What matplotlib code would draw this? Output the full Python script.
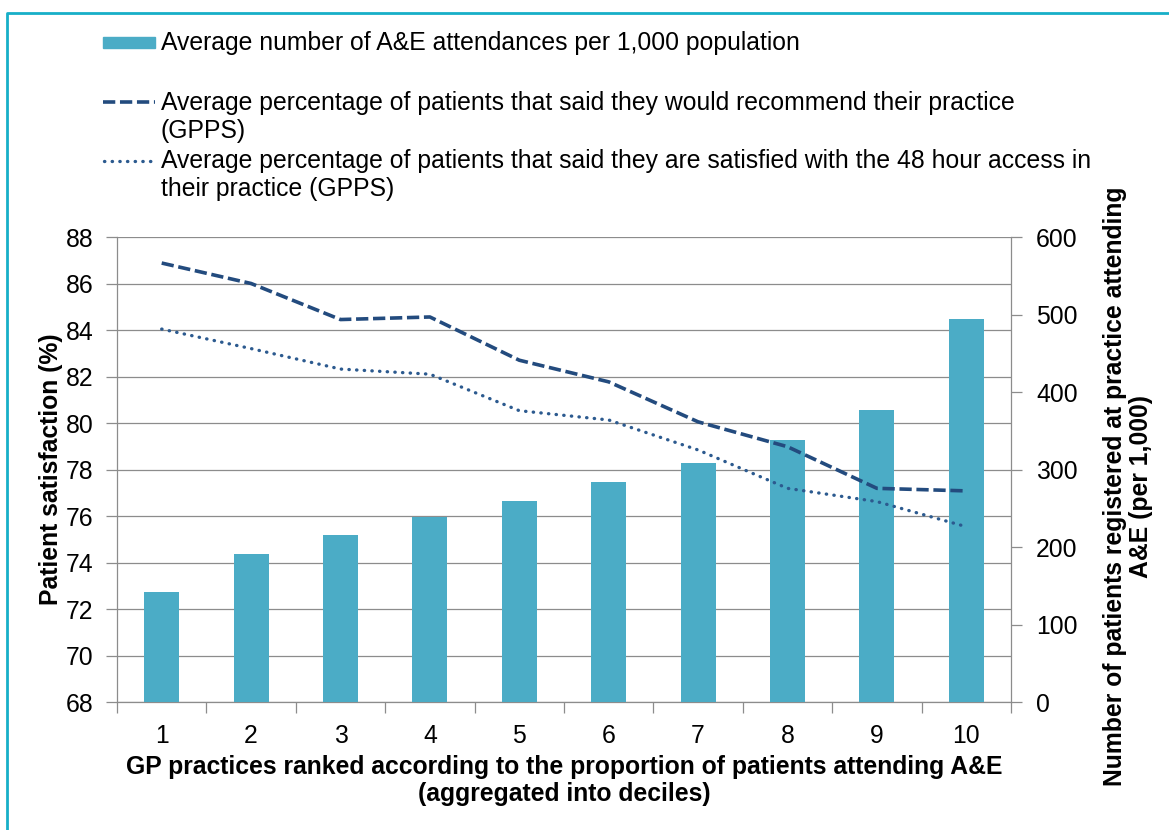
import matplotlib
matplotlib.use("Agg")
import matplotlib.pyplot as plt
import numpy as np
from matplotlib.lines import Line2D
from matplotlib.patches import Rectangle

plt.rcParams['font.family'] = ['Liberation Sans', 'DejaVu Sans']

# ---- data ----
deciles = ['1', '2', '3', '4', '5', '6', '7', '8', '9', '10']
ae_attendances = [142, 191, 216, 239, 260, 284, 309, 338, 377, 494]
recommend_pct = [86.88, 86.0, 84.45, 84.56, 82.7, 81.77, 80.05, 78.98, 77.19, 77.08]
access48_pct = [84.04, 83.2, 82.32, 82.1, 80.53, 80.13, 78.84, 77.19, 76.62, 75.54]
left_ticks = [68, 70, 72, 74, 76, 78, 80, 82, 84, 86, 88]
right_ticks = [0, 100, 200, 300, 400, 500, 600]

label_bar = "Average number of A&E attendances per 1,000 population"
label_rec = ["Average percentage of patients that said they would recommend their practice", "(GPPS)"]
label_acc = ["Average percentage of patients that said they are satisfied with the 48 hour access in", "their practice (GPPS)"]

W, H = 1169, 830
fig = plt.figure(figsize=(W / 100, H / 100), dpi=100)

def fx(px):
    return px / W

def fy(py):
    return 1 - py / H

BAR_C = '#4BACC6'
REC_C = '#234B7E'
ACC_C = '#2C5A8F'
GRID_C = '#8C8C8C'
FS = 17.8

x = np.arange(len(deciles))
left, right, top, bottom = 117, 1011, 237, 702
rect = [fx(left), fy(bottom), fx(right) - fx(left), fy(top) - fy(bottom)]
ax = fig.add_axes(rect)
ax2 = ax.twinx()
ax3 = fig.add_axes(rect, sharex=ax)
ax3.patch.set_visible(False)

# base axis: left scale, grid
ax.set_xlim(-0.5, len(deciles) - 0.5)
ax.set_ylim(68, 88)
ax.set_yticks(left_ticks)
ax.grid(axis='y', color=GRID_C, lw=0.9)
ax.set_xticks(x)
ax.set_xticklabels(deciles, fontsize=FS)
ax.set_xticks(np.arange(len(deciles) + 1) - 0.5, minor=True)
ax.tick_params(axis='x', which='major', length=0, pad=16)
ax.tick_params(axis='x', which='minor', length=8, color=GRID_C, width=0.9)
ax.tick_params(axis='y', length=8, color=GRID_C, width=0.9, pad=9, labelsize=FS)
for s in ['top', 'right']:
    ax.spines[s].set_visible(False)
for s in ['left', 'bottom']:
    ax.spines[s].set_color(GRID_C)
    ax.spines[s].set_linewidth(0.9)
ax.set_ylabel("Patient satisfaction (%)", fontsize=FS, fontweight='bold', labelpad=2)
ax.set_xlabel("GP practices ranked according to the proportion of patients attending A&E\n(aggregated into deciles)",
              fontsize=FS, fontweight='bold', labelpad=5, linespacing=1.15)

# bars on right scale
ax2.bar(x, ae_attendances, width=0.39, color=BAR_C, zorder=2)
ax2.set_ylim(0, 600)
ax2.set_yticks(right_ticks)
ax2.tick_params(axis='y', length=8, color=GRID_C, width=0.9, pad=10, labelsize=FS)
for s in ['top', 'left', 'bottom']:
    ax2.spines[s].set_visible(False)
ax2.spines['right'].set_color(GRID_C)
ax2.spines['right'].set_linewidth(0.9)

# lines on top, left scale
ax3.set_ylim(68, 88)
ax3.plot(x, recommend_pct, color=REC_C, lw=2.6, linestyle=(0, (3.4, 1.3)), dash_capstyle='butt')
ax3.plot(x, access48_pct, color=ACC_C, lw=2.4, linestyle=(0, (0.1, 2.2)), dash_capstyle='round')
ax3.axis('off')

# right axis label
fig.text(fx(1128), fy(486), "Number of patients registered at practice attending\nA&E (per 1,000)",
         rotation=90, ha='center', va='center', fontsize=FS, fontweight='bold', linespacing=1.1,
         multialignment='center')

# ---- legend (manual) ----
fig.add_artist(Rectangle((fx(103), fy(48)), fx(155) - fx(103), fy(37) - fy(48),
                         transform=fig.transFigure, color=BAR_C))
fig.text(fx(161), fy(50), label_bar, fontsize=FS, va='baseline', ha='left')
fig.add_artist(Line2D([fx(103), fx(155)], [fy(102), fy(102)], transform=fig.transFigure,
                      color=REC_C, lw=2.6, linestyle=(0, (3.4, 1.3))))
fig.text(fx(161), fy(110), label_rec[0], fontsize=FS, va='baseline', ha='left')
fig.text(fx(161), fy(138), label_rec[1], fontsize=FS, va='baseline', ha='left')
fig.add_artist(Line2D([fx(104), fx(153)], [fy(161), fy(161)], transform=fig.transFigure,
                      color=ACC_C, lw=2.4, linestyle=(0, (0.1, 2.2)), dash_capstyle='round'))
fig.text(fx(161), fy(168), label_acc[0], fontsize=FS, va='baseline', ha='left')
fig.text(fx(161), fy(196), label_acc[1], fontsize=FS, va='baseline', ha='left')

# border
BORDER_C = '#17AFC8'
fig.add_artist(Line2D([fx(7), fx(7), fx(1169)], [fy(830), fy(13), fy(13)],
                      transform=fig.transFigure, color=BORDER_C, lw=2.0))

fig.savefig("out.png", dpi=100)
